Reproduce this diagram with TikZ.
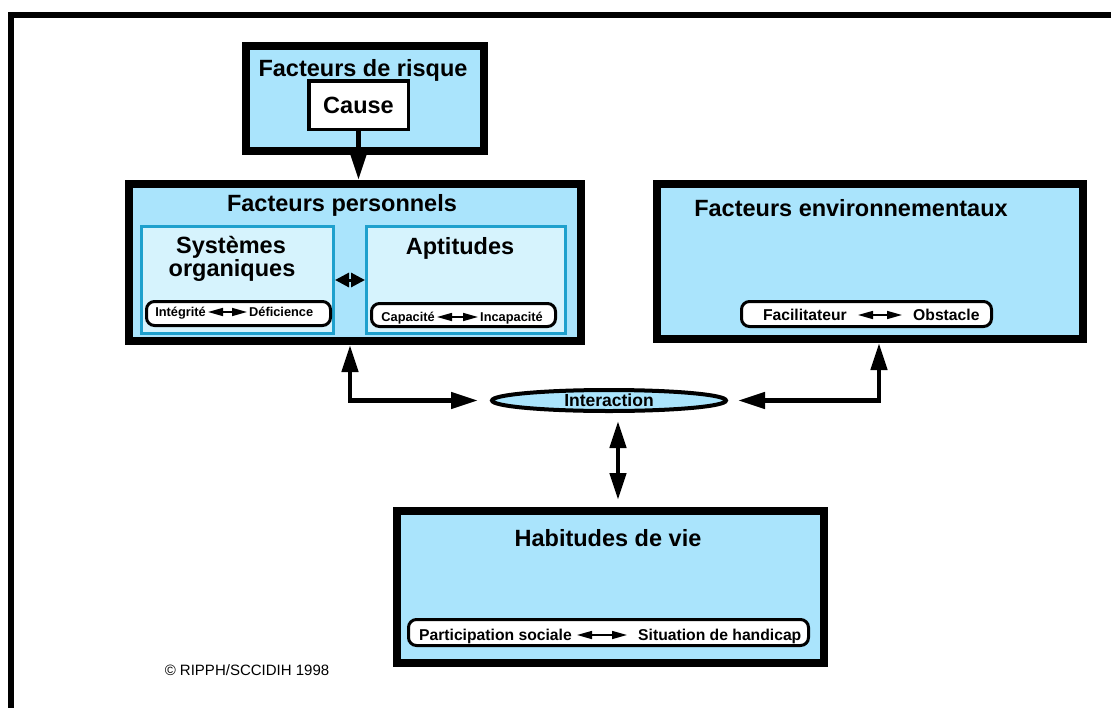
\documentclass[tikz,border=0pt]{standalone}
\usepackage{fontspec}
\setmainfont{Liberation Sans}
\usetikzlibrary{arrows.meta,shapes.geometric,calc}
\definecolor{lblue}{RGB}{170,228,252}
\definecolor{llblue}{RGB}{214,243,253}
\definecolor{cyanb}{RGB}{30,160,205}
\tikzset{
  bigbox/.style={draw, rectangle, line width=8pt, fill=lblue, inner sep=0pt},
  innerbox/.style={draw=cyanb, rectangle, line width=3pt, fill=llblue, inner sep=0pt},
  causebox/.style={draw, rectangle, line width=3.5pt, fill=white, inner sep=0pt,
    font=\fontsize{23.5}{26}\selectfont\bfseries, text height=16.8pt, text depth=0pt},
  pill/.style={draw, rectangle, rounded corners=8pt, line width=3pt, fill=white, inner sep=0pt},
  title/.style={inner sep=0pt, font=\fontsize{23.5}{20}\selectfont\bfseries, text height=16.8pt, text depth=0pt},
  pilltxtS/.style={inner sep=0pt, font=\fontsize{12.8}{14}\selectfont\bfseries, text height=9.2pt, text depth=0pt},
  pilltxtL/.style={inner sep=0pt, font=\fontsize{15.7}{18}\selectfont\bfseries, text height=11.2pt, text depth=0pt},
  bigarr/.style={line width=4.5pt, line join=miter},
  bighead/.tip={Triangle[length=27pt,width=16pt]},
  midhead/.tip={Triangle[length=14pt,width=14pt]},
  smallhead/.tip={Triangle[length=15pt,width=8pt]},
}
\begin{document}
\begin{tikzpicture}[x=1pt,y=-1pt]
\useasboundingbox (0,0) rectangle (1111,707);
\fill[white] (0,0) rectangle (1111,707);
% outer frame
\draw[line width=6pt, line join=miter] (11,710) -- (11,15) -- (1114,15);

% Facteurs de risque
\node[bigbox, minimum width=238pt, minimum height=105pt] (risque) at (365,98.5) {};
\node[title] (tRisque) at (363,68) {Facteurs de risque};
\node[causebox, minimum width=99.5pt, minimum height=48.5pt] (cause) at (358.5,105) {Cause};

% Facteurs personnels
\node[bigbox, minimum width=452pt, minimum height=157pt] (pers) at (355,262.5) {};
\node[title] (tPers) at (342,203) {Facteurs personnels};
\node[innerbox, minimum width=192pt, minimum height=107pt] (sys) at (237.5,280) {};
\node[innerbox, minimum width=199pt, minimum height=107pt] (apt) at (466,280) {};
\node[title] (tSys) at (231,245) {Systèmes};
\node[title] (tSys2) at (232,268) {organiques};
\node[title] (tApt) at (460,246) {Aptitudes};
\node[pill, minimum width=184pt, minimum height=24pt] (pill1) at (238.5,313.5) {};
\node[pill, minimum width=184pt, minimum height=23pt] (pill2) at (463.5,315) {};
\node[pilltxtS, anchor=east] (integ) at (206,312) {Intégrité};
\node[pilltxtS, anchor=west] (defic) at (249,312) {Déficience};
\node[pilltxtS, anchor=east] (capa) at (435,317) {Capacité};
\node[pilltxtS, anchor=west] (incapa) at (480,317) {Incapacité};

% Facteurs environnementaux
\node[bigbox, minimum width=426pt, minimum height=155pt] (env) at (870,261.5) {};
\node[title] (tEnv) at (851,208) {Facteurs environnementaux};
\node[pill, minimum width=250pt, minimum height=25pt] (pill3) at (866.5,314) {};
\node[pilltxtL, anchor=east] (facil) at (847,315) {Facilitateur};
\node[pilltxtL, anchor=west] (obst) at (913,315) {Obstacle};

% Interaction
\node[ellipse, draw, line width=4pt, fill=lblue, minimum width=234pt, minimum height=21pt, inner sep=0pt,
  font=\fontsize{17.5}{18}\selectfont\bfseries, text height=12.5pt, text depth=0pt] (inter) at (609,400.5) {Interaction};

% Habitudes de vie
\node[bigbox, minimum width=427pt, minimum height=152pt] (hab) at (610.5,587) {};
\node[title] (tHab) at (608,538) {Habitudes de vie};
\node[pill, minimum width=400pt, minimum height=26pt] (pill4) at (608.5,632.5) {};
\node[pilltxtL, anchor=east] (partic) at (572,635) {Participation sociale};
\node[pilltxtL, anchor=west] (situ) at (638,635) {Situation de handicap};

% copyright
\node[inner sep=0pt, font=\fontsize{15}{16}\selectfont, text height=10.7pt, text depth=0pt] (copy) at (247,670) {© RIPPH/SCCIDIH 1998};

% connectors
\draw[bigarr, -bighead] (cause.south) -- (cause.south |- pers.north);
\draw[bigarr, bighead-bighead] ([xshift=-5pt]pers.south) |- ([xshift=-12pt]inter.west);
\draw[bigarr, bighead-bighead] ([xshift=9pt]env.south) |- ([xshift=10pt]inter.east);
\draw[bigarr, bighead-bighead, shorten <=8pt, shorten >=7pt] ([xshift=9pt]inter.south) -- ([xshift=9pt]inter.south |- hab.north);
\draw[line width=3pt, midhead-midhead] (sys.east) -- (apt.west);
\draw[line width=1.5pt, smallhead-smallhead] ([xshift=2pt]integ.east) -- ([xshift=-2pt]defic.west);
\draw[line width=1.5pt, smallhead-smallhead] ([xshift=2pt]capa.east) -- ([xshift=-2pt]incapa.west);
\draw[line width=1.5pt, smallhead-smallhead] ([xshift=11pt]facil.east) -- ([xshift=-11pt]obst.west);
\draw[line width=1.5pt, smallhead-smallhead] ([xshift=5pt]partic.east) -- ([xshift=-11pt]situ.west);
\end{tikzpicture}
\end{document}
